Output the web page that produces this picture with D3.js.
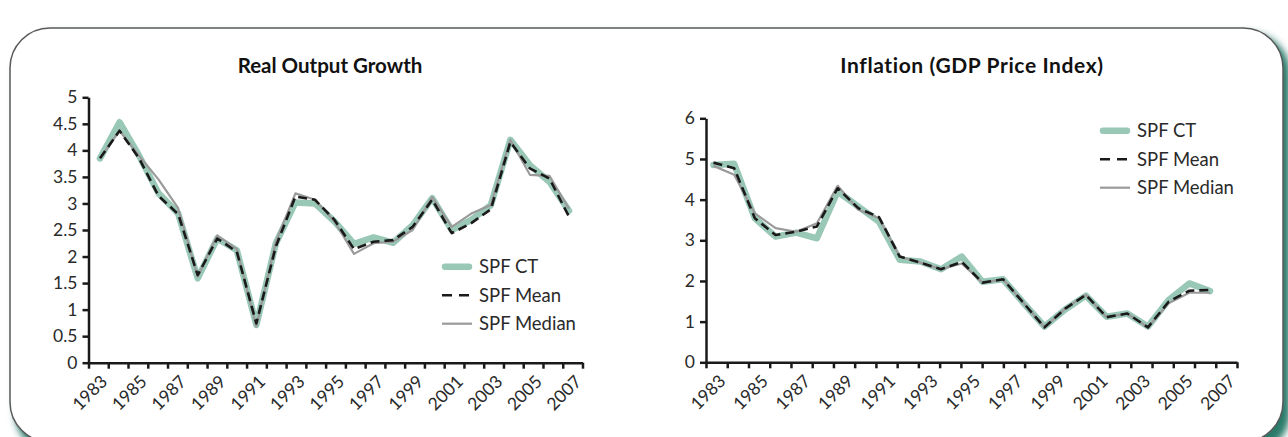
<!DOCTYPE html>
<html><head><meta charset="utf-8">
<script src="https://cdn.jsdelivr.net/npm/d3@7"></script>
<style>
body{margin:0;background:#fff;}
svg{display:block;}
text{font-family:Lato,"DejaVu Sans",sans-serif;font-variant-ligatures:none;font-feature-settings:"liga" 0,"clig" 0;}
</style>
</head><body>
<svg id="c" width="1288" height="437"></svg>
<script>
// ---- data ----
const years = [1983,1984,1985,1986,1987,1988,1989,1990,1991,1992,1993,1994,1995,1996,1997,1998,1999,2000,2001,2002,2003,2004,2005,2006,2007];
const xTickLabels = [1983,1985,1987,1989,1991,1993,1995,1997,1999,2001,2003,2005,2007];
const seriesNames = ["SPF CT","SPF Mean","SPF Median"];

const growthTitle = "Real Output Growth";
const growthTicks = [0,0.5,1,1.5,2,2.5,3,3.5,4,4.5,5];
const growthCT     = [3.85,4.53,3.9,3.19,2.81,1.59,2.34,2.12,0.71,2.25,3.02,3.0,2.66,2.24,2.36,2.26,2.59,3.1,2.5,2.69,2.97,4.2,3.72,3.41,2.86];
const growthMean   = [3.85,4.37,3.85,3.14,2.8,1.65,2.34,2.09,0.74,2.19,3.13,3.07,2.69,2.14,2.28,2.31,2.56,3.07,2.44,2.63,2.89,4.16,3.66,3.47,2.75];
const growthMedian = [3.85,4.37,3.9,3.45,2.91,1.62,2.4,2.14,0.68,2.28,3.19,3.07,2.66,2.05,2.25,2.28,2.5,3.12,2.56,2.81,2.97,4.2,3.54,3.52,2.9];

const inflTitle = "Inflation (GDP Price Index)";
const inflTicks = [0,1,2,3,4,5,6];
const inflCT     = [4.85,4.88,3.54,3.09,3.19,3.05,4.2,3.83,3.46,2.52,2.48,2.29,2.6,1.98,2.04,1.45,0.88,1.3,1.64,1.12,1.2,0.88,1.53,1.94,1.75];
const inflMean   = [4.91,4.77,3.54,3.13,3.21,3.34,4.28,3.79,3.57,2.6,2.45,2.29,2.47,1.96,2.04,1.45,0.86,1.32,1.66,1.11,1.2,0.86,1.49,1.76,1.78];
const inflMedian = [4.83,4.61,3.66,3.3,3.21,3.42,4.34,3.75,3.54,2.6,2.45,2.29,2.43,1.96,2.04,1.45,0.86,1.32,1.66,1.11,1.2,0.86,1.45,1.71,1.71];

// ---- styles ----
const CT_COLOR = "#9ac8b7", MEAN_COLOR = "#1a1a1a", MED_COLOR = "#9a9a9a", AXIS = "#1a1a1a", TXT = "#2a2a2a";
const FONT = "Lato";

const svg = d3.select("#c");
const defs = svg.append("defs");
const f = defs.append("filter").attr("id","sh").attr("x","-5%").attr("y","-5%").attr("width","110%").attr("height","110%");
f.append("feGaussianBlur").attr("stdDeviation",3.5);

// frame
svg.append("rect").attr("x",15).attr("y",33).attr("width",1275).attr("height",420)
  .attr("rx",40).attr("ry",40).attr("fill","#2c7a6a").attr("filter","url(#sh)");
svg.append("rect").attr("x",10).attr("y",28).attr("width",1273).attr("height",414)
  .attr("rx",40).attr("ry",40).attr("fill","#fff").attr("stroke","#5a5a5a").attr("stroke-width",1.5);

function drawChart(c){
  const g = svg.append("g");
  const x = d3.scaleLinear().domain([years[0], years[years.length-1]]).range(c.pts);
  const band = d3.scaleBand().domain(years).range(c.axisX);
  const xb = d3.scaleLinear().domain([0, years.length]).range(c.axisX);
  const y = d3.scaleLinear().domain([0, c.ticks[c.ticks.length-1]]).range([c.y0, c.yTop]);

  // title
  g.append("text").attr("x",c.titleX).attr("y",73).attr("text-anchor","middle")
    .attr("font-weight","bold").attr("font-size",c.titleSize).attr("letter-spacing",c.titleLS)
    .attr("fill","#111").text(c.title);

  // y axis
  const ya = g.append("g").attr("transform",`translate(${c.axisX[0]},0)`)
    .call(d3.axisLeft(y).tickValues(c.ticks).tickSize(6).tickSizeOuter(0).tickPadding(5).tickFormat(d=>String(d)));
  // x axis
  const xa = g.append("g").attr("transform",`translate(0,${c.y0})`)
    .call(d3.axisBottom(xb).tickValues(d3.range(years.length+1)).tickSize(6).tickSizeOuter(0).tickFormat(""));
  [ya,xa].forEach(a=>{
    a.select(".domain").attr("stroke",AXIS).attr("stroke-width",2.5);
    a.selectAll(".tick line").attr("stroke",AXIS).attr("stroke-width",2.5);
    a.selectAll(".tick text").attr("fill",TXT).attr("font-size",17.5).attr("font-family",FONT);
  });
  // x labels
  g.selectAll(".xl").data(xTickLabels).join("text")
    .attr("font-size",17.5).attr("fill",TXT).attr("text-anchor","end")
    .attr("transform",d=>`translate(${band(d)+band.bandwidth()/2+10},${c.y0+20}) rotate(-45)`)
    .text(d=>d);

  const line = d3.line().x((d,i)=>x(years[i])).y(d=>y(d)).curve(d3.curveLinear);
  g.append("path").datum(c.ct).attr("d",line).attr("fill","none").attr("stroke",CT_COLOR)
    .attr("stroke-width",6.5).attr("stroke-linejoin","round").attr("stroke-linecap","round");
  g.append("path").datum(c.med).attr("d",line).attr("fill","none").attr("stroke",MED_COLOR)
    .attr("stroke-width",2.2).attr("stroke-linejoin","round");
  g.append("path").datum(c.mean).attr("d",line).attr("fill","none").attr("stroke",MEAN_COLOR)
    .attr("stroke-width",2.6).attr("stroke-dasharray","9,5").attr("stroke-linejoin","round");

  // legend
  const lg = g.append("g");
  seriesNames.forEach((n,i)=>{
    const yy = c.leg[1] + i*28.5;
    const l = lg.append("line").attr("x1",c.leg[0]).attr("x2",c.leg[0]+30).attr("y1",yy).attr("y2",yy);
    if(i===0) l.attr("stroke",CT_COLOR).attr("stroke-width",6.5).attr("stroke-linecap","round")
               .attr("x1",c.leg[0]+3).attr("x2",c.leg[0]+27);
    if(i===1) l.attr("stroke",MEAN_COLOR).attr("stroke-width",2.6).attr("stroke-dasharray","10,7");
    if(i===2) l.attr("stroke",MED_COLOR).attr("stroke-width",2.2);
    lg.append("text").attr("x",c.leg[0]+37).attr("y",yy+6.5).attr("font-size",18.5).attr("fill",TXT).text(n);
  });
}

drawChart({title:growthTitle, titleX:330, titleSize:20.5, titleLS:0, ticks:growthTicks, ct:growthCT, mean:growthMean, med:growthMedian,
  axisX:[88.5,582.5], pts:[100,569], y0:362.7, yTop:97.3, leg:[442,266.7]});
drawChart({title:inflTitle, titleX:972, titleSize:21, titleLS:0.6, ticks:inflTicks, ct:inflCT, mean:inflMean, med:inflMedian,
  axisX:[706,1237], pts:[713.5,1210], y0:362.3, yTop:118.3, leg:[1100,130.7]});
</script>
</body></html>
